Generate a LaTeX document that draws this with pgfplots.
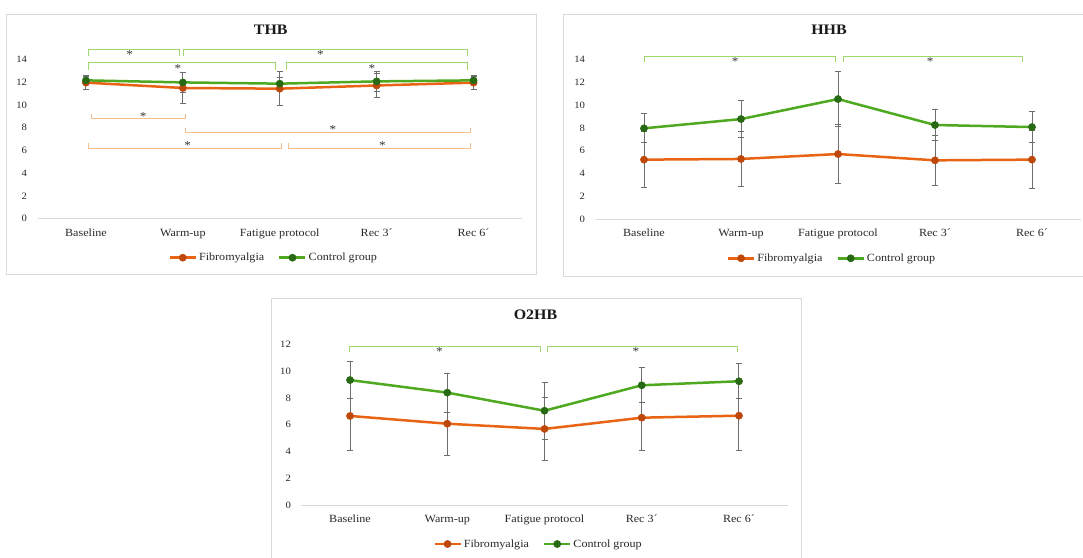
\documentclass[border=0pt]{standalone}
\usepackage{fontspec}
\setmainfont[FakeStretch=1.1]{Liberation Serif}
\usepackage{pgfplots}
\pgfplotsset{compat=1.18}
\definecolor{orline}{RGB}{232,100,20}
\definecolor{ormark}{RGB}{190,72,10}
\definecolor{grline}{RGB}{78,168,32}
\definecolor{grmark}{RGB}{40,105,20}
\definecolor{grbr}{RGB}{160,215,110}
\definecolor{orbr}{RGB}{247,190,140}
\definecolor{frame}{RGB}{217,217,217}
\definecolor{ebar}{RGB}{110,110,110}
\definecolor{txt}{RGB}{40,40,40}
\pgfplotsset{
  panel/.style={
    scale only axis,
    xmin=-0.5, xmax=4.5, ymin=0,
    xtick={0,...,4},
    xticklabels={Baseline, Warm-up, Fatigue protocol, Rec 3´, Rec 6´},
    axis x line*=bottom, axis y line*=left,
    x axis line style={-, draw=frame, line width=0.8pt},
    y axis line style={draw=none},
    major tick length=0pt, tick style={draw=none},
    clip=false,
    /pgf/number format/assume math mode=true,
    yticklabel style={font=\fontsize{9.7}{11}\selectfont, text=txt, xshift=-7pt},
    xticklabel style={font=\fontsize{11}{13}\selectfont, text=txt, text height=8pt, text depth=2.5pt, yshift=-6pt},
    title style={font=\fontsize{14.5}{16}\selectfont\bfseries, text=black!90, at={(0.5,1)}, anchor=center, yshift=24pt, xshift=-9pt},
    legend columns=2,
    legend style={draw=none, fill=none, font=\fontsize{11}{13}\selectfont, text=txt,
      at={(0.5,0)}, anchor=center, yshift=-39pt, xshift=-6pt,
      /tikz/every even column/.append style={column sep=12pt}},
    legend image code/.code={\draw[mark repeat=2,mark phase=2,#1] plot coordinates {(0pt,0pt) (13pt,0pt) (26pt,0pt)};},
    fibro/.style={color=orline, line width=2.5pt, mark=*, mark size=3.6pt, mark options={fill=ormark, draw=ormark, line width=0.5pt},
      error bars/.cd, y dir=both, y explicit, error bar style={ebar, line width=1pt}, error mark options={rotate=90, mark size=3pt, ebar, line width=1pt}},
    ctrl/.style={color=grline, line width=2.5pt, mark=*, mark size=3.6pt, mark options={fill=grmark, draw=grmark, line width=0.5pt},
      error bars/.cd, y dir=both, y explicit, error bar style={ebar, line width=1pt}, error mark options={rotate=90, mark size=3pt, ebar, line width=1pt}},
  }
}
\newcommand{\brdown}[5]{% color, x1, x2, ytop, ybottom
  \draw[#1, line width=0.9pt] (axis cs:#2,#5) -- (axis cs:#2,#4) -- (axis cs:#3,#4) -- (axis cs:#3,#5);}
\newcommand{\sigstar}[2]{\node[font=\fontsize{12}{13}\selectfont, text=black!80, inner sep=0pt] at (axis cs:#1,#2) {*};}
\begin{document}
\begin{tikzpicture}[x=1pt,y=1pt]
\path[use as bounding box] (0,0) rectangle (1083,557);
% frames
\draw[frame, line width=0.8pt] (6,283) rectangle (536,543);
\draw[frame, line width=0.8pt] (1090,543) -- (563,543) -- (563,281) -- (1090,281);
\draw[frame, line width=0.8pt] (271,-5) -- (271,259) -- (801,259) -- (801,-5);

% THB
\begin{axis}[panel, at={(37.5pt,338.3pt)}, anchor=south west, width=484.5pt, height=159.4pt,
  ymax=14, ytick={0,2,...,14}, title={THB}]
\addplot+[fibro] coordinates {(0,11.95) +- (0,0.6) (1,11.48) +- (0,1.4) (2,11.42) +- (0,1.5) (3,11.7) +- (0,1.05) (4,11.95) +- (0,0.6)};
\addplot+[ctrl] coordinates {(0,12.15) +- (0,0.35) (1,11.97) +- (0,0.9) (2,11.86) +- (0,0.5) (3,12.06) +- (0,0.85) (4,12.15) +- (0,0.35)};
\legend{Fibromyalgia, Control group}
\brdown{grbr}{0.03}{0.97}{14.9}{14.3}
\brdown{grbr}{1.01}{3.94}{14.9}{14.3}
\brdown{grbr}{0.03}{1.96}{13.7}{13.1}
\brdown{grbr}{2.07}{3.94}{13.7}{13.1}
\brdown{orbr}{0.06}{1.03}{8.78}{9.2}
\brdown{orbr}{1.03}{3.97}{7.57}{8.0}
\brdown{orbr}{0.03}{2.02}{6.2}{6.62}
\brdown{orbr}{2.09}{3.97}{6.2}{6.62}
\sigstar{0.45}{14.4}
\sigstar{2.42}{14.4}
\sigstar{0.95}{13.2}
\sigstar{2.95}{13.2}
\sigstar{0.59}{9.0}
\sigstar{2.55}{7.85}
\sigstar{1.05}{6.45}
\sigstar{3.06}{6.45}
\end{axis}

% HHB
\begin{axis}[panel, at={(595.5pt,337.7pt)}, anchor=south west, width=485pt, height=160pt,
  ymax=14, ytick={0,2,...,14}, title={HHB}]
\addplot+[fibro] coordinates {(0,5.22) +- (0,2.48) (1,5.28) +- (0,2.37) (2,5.71) +- (0,2.62) (3,5.16) +- (0,2.16) (4,5.22) +- (0,2.51)};
\addplot+[ctrl] coordinates {(0,7.96) +- (0,1.28) (1,8.77) +- (0,1.63) (2,10.52) +- (0,2.4) (3,8.25) +- (0,1.37) (4,8.07) +- (0,1.34)};
\legend{Fibromyalgia, Control group}
\brdown{grbr}{0.0}{1.97}{14.29}{13.8}
\brdown{grbr}{2.06}{3.9}{14.29}{13.8}
\sigstar{0.94}{13.8}
\sigstar{2.95}{13.8}
\end{axis}

% O2HB
\begin{axis}[panel, at={(301.4pt,52pt)}, anchor=south west, width=486.2pt, height=160.7pt,
  ymax=12, ytick={0,2,...,12}, title={O2HB}]
\addplot+[fibro] coordinates {(0,6.65) +- (0,2.55) (1,6.07) +- (0,2.39) (2,5.68) +- (0,2.34) (3,6.52) +- (0,2.46) (4,6.67) +- (0,2.57)};
\addplot+[ctrl] coordinates {(0,9.33) +- (0,1.35) (1,8.39) +- (0,1.45) (2,7.04) +- (0,2.12) (3,8.94) +- (0,1.31) (4,9.24) +- (0,1.29)};
\legend{Fibromyalgia, Control group}
\brdown{grbr}{-0.01}{1.96}{11.82}{11.45}
\brdown{grbr}{2.03}{3.98}{11.82}{11.45}
\sigstar{0.92}{11.45}
\sigstar{2.94}{11.45}
\end{axis}
\end{tikzpicture}
\end{document}
